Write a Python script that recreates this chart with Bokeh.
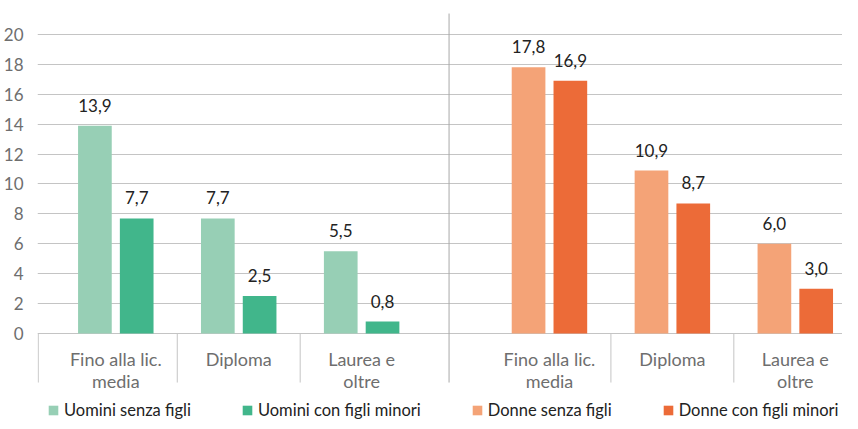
from bokeh.plotting import figure
from bokeh.models import Range1d, FixedTicker, LabelSet, ColumnDataSource, Legend, LegendItem
from bokeh.transform import dodge
from bokeh.embed import file_html
from bokeh.resources import INLINE
from bokeh.core.properties import value

# ---- data ----
groups = ["Uomini", "Donne"]
categories = ["Fino alla lic.\nmedia", "Diploma", "Laurea e\noltre"]
series_names = ["Uomini senza figli", "Uomini con figli minori",
                "Donne senza figli", "Donne con figli minori"]
uomini_senza_figli = [13.9, 7.7, 5.5]
uomini_con_figli_minori = [7.7, 2.5, 0.8]
donne_senza_figli = [17.8, 10.9, 6.0]
donne_con_figli_minori = [16.9, 8.7, 3.0]
y_ticks = [0, 2, 4, 6, 8, 10, 12, 14, 16, 18, 20]

# ---- style ----
COLORS = ["#97CFB5", "#41B68B", "#F4A377", "#EC6B38"]
GROUP_GAP = 0.528
BAR_W = 0.274
DODGE = 0.17
FONT = value("Lato")
GRID = "#C4C4C4"

N = len(categories)


def group_offset(gi):
    return gi * (N + GROUP_GAP)


def positions(gi):
    return [group_offset(gi) + i + 0.5 for i in range(N)]


def fmt(v):
    return f"{v:.1f}".replace(".", ",")


X_START, X_END = -0.137, 6.412
Y_START, Y_END = -5.886, 21.47

p = figure(width=842, height=421, output_backend="svg", toolbar_location=None,
           x_range=Range1d(X_START, X_END), y_range=Range1d(Y_START, Y_END),
           x_axis_location=None, min_border_left=30, min_border_right=0,
           min_border_top=12, min_border_bottom=0, outline_line_color=None,
           background_fill_color="white", border_fill_color="white")

ticker = FixedTicker(ticks=y_ticks)
p.yaxis.ticker = ticker
p.ygrid.ticker = ticker
p.ygrid.grid_line_color = GRID
p.ygrid.grid_line_width = 1
p.xgrid.visible = False
p.yaxis.axis_line_color = None
p.yaxis.major_tick_line_color = None
p.yaxis.minor_tick_line_color = None
p.yaxis.major_label_standoff = 8
p.yaxis.major_label_text_font = "Lato"
p.yaxis.major_label_text_font_size = "17px"
p.yaxis.major_label_text_color = "#6E6E6E"

series = [
    (series_names[0], uomini_senza_figli, 0, -1, COLORS[0]),
    (series_names[1], uomini_con_figli_minori, 0, 1, COLORS[1]),
    (series_names[2], donne_senza_figli, 1, -1, COLORS[2]),
    (series_names[3], donne_con_figli_minori, 1, 1, COLORS[3]),
]

items = []
for name, vals, gi, side, color in series:
    src = ColumnDataSource(dict(x=positions(gi), top=vals, label=[fmt(v) for v in vals]))
    r = p.vbar(x=dodge("x", side * DODGE), top="top", bottom=0, width=BAR_W,
               source=src, fill_color=color, line_color=None)
    items.append(LegendItem(label=name, renderers=[r]))
    p.add_layout(LabelSet(x=dodge("x", side * DODGE), y="top", text="label", source=src,
                          y_offset=14, text_align="center", text_baseline="alphabetic",
                          text_font=FONT, text_font_size="17px", text_color="#222222"))

# category labels (each line centred on its own)
lines = [c.split("\n") for c in categories] * len(groups)
cat_x = [x for gi in range(len(groups)) for x in positions(gi)]
for li, off in ((0, -15), (1, -37)):
    keep = [i for i, ln in enumerate(lines) if len(ln) > li]
    src = ColumnDataSource(dict(
        x=[cat_x[i] for i in keep], y=[0] * len(keep),
        text=[lines[i][li] for i in keep],
    ))
    p.add_layout(LabelSet(x="x", y="y", text="text", source=src, y_offset=off,
                          text_align="center", text_baseline="top",
                          text_font=FONT, text_font_size="18px", text_color="#6E6E6E"))

# category separators
sep_x = [X_START + 0.006]
for gi in range(len(groups)):
    sep_x += [group_offset(gi) + i for i in range(1, N)]
p.segment(x0=sep_x, x1=sep_x, y0=0, y1=-3.28, line_color=GRID, line_width=1)

# group divider
div_x = [group_offset(1) - GROUP_GAP * 0.6]
p.segment(x0=div_x, x1=div_x, y0=Y_END - 0.07, y1=-3.28, line_color="#A8A8A8", line_width=1)

legend = Legend(items=items, orientation="horizontal", location=(10, 1),
                border_line_color=None, background_fill_alpha=0, padding=0, margin=0,
                spacing=50, glyph_width=12, glyph_height=12, label_standoff=5,
                label_text_font="Lato", label_text_font_size="16.5px",
                label_text_color="#222222", label_height=12)
p.add_layout(legend)

open("out.html", "w").write(file_html(p, INLINE))
